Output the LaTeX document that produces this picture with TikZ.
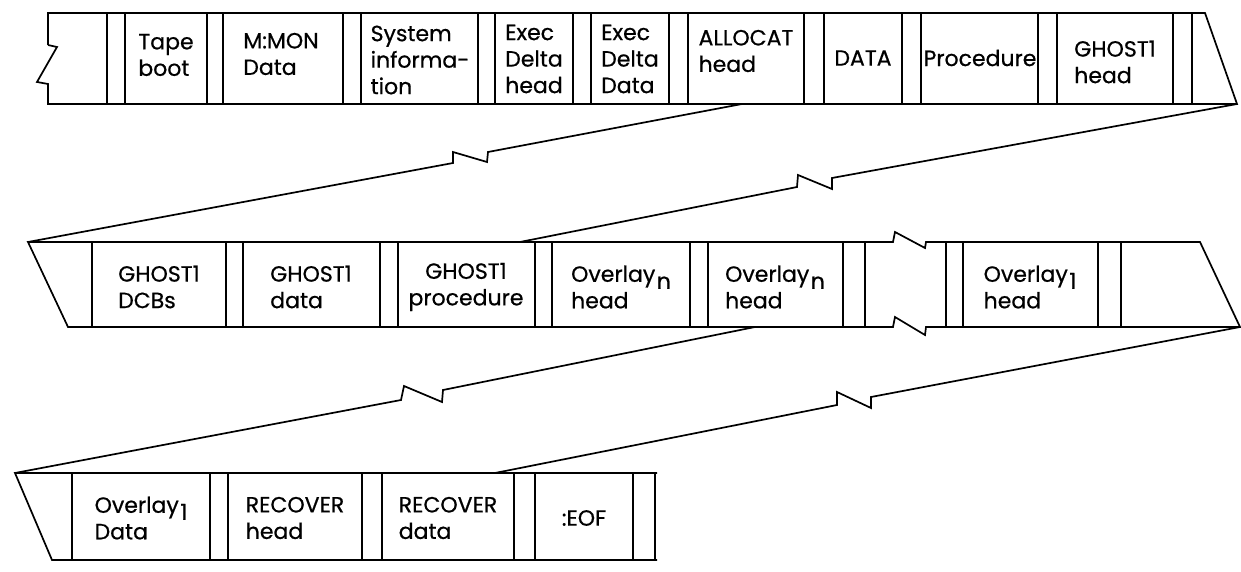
\documentclass[tikz,border=0pt]{standalone}
\usepackage{fontspec}
\newfontfamily\lblfamily[FakeBold=0.6]{Poppins}
\newcommand{\lblfont}{\lblfamily\fontsize{22}{26.5}\selectfont}
\newcommand{\subsc}[1]{\kern1.5pt\raisebox{-7pt}{#1}}
\begin{document}
\begin{tikzpicture}[x=1pt,y=-1pt,
  ln/.style={line width=1.7pt, line join=miter},
  cell/.style={line width=1.5pt},
  lbl/.style={font=\lblfont, align=left, inner sep=0pt}]
\useasboundingbox (0,0) rectangle (1241,572);
% ---------- top row ----------
\draw[ln] (48,45) -- (48,13) -- (1205,13) -- (1237,104) -- (48,104) -- (48,84) -- (37,82) -- (57,47) -- (48,45);
\foreach \x in {107,125,207,223,343,361,478,495,573,591,669,688,804,824,902,921,1038,1057,1173,1192}
  \draw[cell] (\x,13) -- (\x,104);
\node[lbl] (tape) at (166,55) {Tape\\boot};
\node[lbl] (mmon) at (281,54) {M:MON\\Data};
\node[lbl] (sys) at (420,60) {System\\informa-\\tion};
\node[lbl] (edh) at (534,59) {Exec\\Delta\\head};
\node[lbl] (edd) at (630,59) {Exec\\Delta\\Data};
\node[lbl] (alloc) at (746,51) {ALLOCAT\\head};
\node[lbl] (data) at (863,58) {DATA};
\node[lbl] (proc) at (980,58) {Procedure};
\node[lbl] (gh) at (1115,62) {GHOST1\\head};
% ---------- middle row ----------
\draw[ln] (28,242) -- (893,242) -- (895,232) -- (925,248) -- (926,242) -- (1200,242) -- (1240,327)
  -- (926,327) -- (925,335) -- (895,317) -- (893,327) -- (68,327) -- cycle;
\foreach \x in {92,226,243,380,398,535,552,690,708,843,865,946,963,1098,1121}
  \draw[cell] (\x,242) -- (\x,327);
\node[lbl] (gdcb) at (159,287) {GHOST1\\DCBs};
\node[lbl] (gdata) at (311,287) {GHOST1\\data};
\node[lbl,align=center] (gproc) at (466,287) {GHOST1\\procedure};
\node[lbl] (ovn1) at (621,287) {Overlay\subsc{n}\\head};
\node[lbl] (ovn2) at (775,287) {Overlay\subsc{n}\\head};
\node[lbl] (ov1h) at (1030,287) {Overlay\subsc{1}\\head};
% ---------- bottom row ----------
\draw[ln] (657,473) -- (15,473) -- (52,560) -- (657,560);
\foreach \x in {72,210,228,362,382,514,535,633,655}
  \draw[cell] (\x,473) -- (\x,560);
\node[lbl] (ov1d) at (141,518) {Overlay\subsc{1}\\Data};
\node[lbl] (rech) at (295,518) {RECOVER\\head};
\node[lbl] (recd) at (448,518) {RECOVER\\data};
\node[lbl] (eof) at (584,518) {:EOF};
% ---------- connectors ----------
\coordinate (a1) at (742,104);
\coordinate (a2) at (28,242);
\coordinate (b1) at (1237,104);
\coordinate (b2) at (520,242);
\coordinate (c1) at (755,327);
\coordinate (c2) at (15,473);
\coordinate (d1) at (1240,327);
\coordinate (d2) at (495,473);
\draw[ln] (a1) -- (488,152) -- (487,162) -- (453,152) -- (453,163) -- (a2);
\draw[ln] (b1) -- (832,178) -- (832,189) -- (798,175) -- (797,187) -- (b2);
\draw[ln] (c1) -- (443,390) -- (442,402) -- (404,386) -- (401,400) -- (c2);
\draw[ln] (d1) -- (871,397) -- (871,408) -- (837,392) -- (837,405) -- (d2);
\end{tikzpicture}
\end{document}
